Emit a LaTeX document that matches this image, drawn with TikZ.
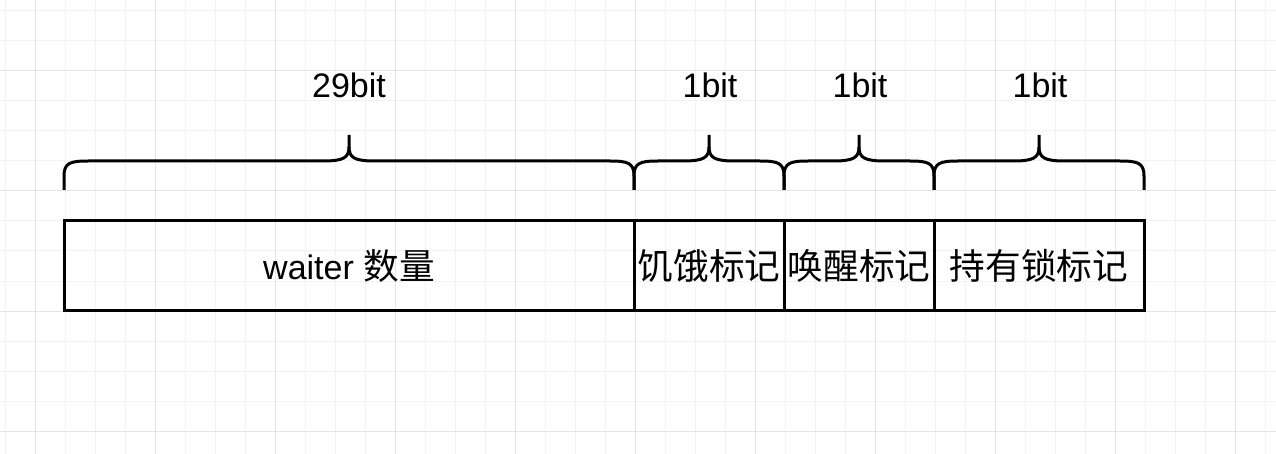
\documentclass[tikz,border=0pt]{standalone}
\usepackage{fontspec}
\setmainfont{Liberation Sans}
\newfontfamily\cjk{Noto Sans CJK SC}[Scale=1.05]
\begin{document}
\begin{tikzpicture}[x=1pt,y=-1pt,
  minorgrid/.style={draw=black!5, line width=1pt},
  majorgrid/.style={draw=black!10, line width=1pt},
  cell/.style={draw, line width=3pt, minimum height=89pt, inner sep=0pt, outer sep=0pt, font=\fontsize{34}{40}\selectfont},
  bitlabel/.style={font=\fontsize{34}{40}\selectfont, anchor=base, inner sep=0pt},
  bracepath/.style={draw, line width=3pt, line join=round}]
\useasboundingbox (0,0) rectangle (1276,454);
\fill[white] (0,0) rectangle (1276,454);
% grid
\foreach \x in {5,35,...,1275} \draw[minorgrid] (\x,0) -- (\x,454);
\foreach \y in {11,41,...,451} \draw[minorgrid] (0,\y) -- (1276,\y);
\foreach \x in {35,155,...,1275} \draw[majorgrid] (\x,0) -- (\x,454);
\foreach \y in {71,191,...,451} \draw[majorgrid] (0,\y) -- (1276,\y);
% braces
\newcommand\bracebit[3]{%
  \draw[bracepath] (#1,190) -- (#1,176) .. controls (#1,163) and ({#1+6},161) .. ({#1+24},161)
    -- ({#2-26},161) .. controls ({#2-6},161) and (#2,158) .. (#2,147) -- (#2,135);
  \draw[bracepath] (#2,147) .. controls (#2,158) and ({#2+6},161) .. ({#2+26},161)
    -- ({#3-24},161) .. controls ({#3-6},161) and (#3,163) .. (#3,176) -- (#3,190);
}
\bracebit{64}{349}{634}
\bracebit{634}{709}{784}
\bracebit{784}{859}{934}
\bracebit{934}{1039}{1144}
% labels
\node[bitlabel] (l1) at (349,98) {29bit};
\node[bitlabel] (l2) at (710,98) {1bit};
\node[bitlabel] (l3) at (860,98) {1bit};
\node[bitlabel] (l4) at (1040,98) {1bit};
% cells
\node[cell, minimum width=570pt] (waiter) at (349,265.5) {waiter {\cjk 数量}};
\node[cell, minimum width=150pt] (starve) at (709,265.5) {\cjk 饥饿标记};
\node[cell, minimum width=150pt] (wake) at (859,265.5) {\cjk 唤醒标记};
\node[cell, minimum width=210pt] (lock) at (1039,265.5) {\cjk 持有锁标记};
\end{tikzpicture}
\end{document}
